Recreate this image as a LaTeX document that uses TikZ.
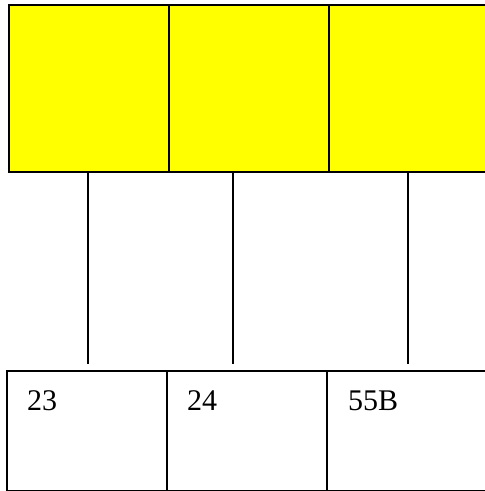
\documentclass[tikz,border=0pt]{standalone}
\usepackage{fontspec}
\setmainfont{Liberation Serif}
\usetikzlibrary{calc}
\definecolor{boxyellow}{RGB}{255,255,0}
\begin{document}
\begin{tikzpicture}[x=1pt,y=-1pt,
  ybox/.style={draw=black,line width=1.5pt,fill=boxyellow,rectangle,inner sep=0pt,anchor=north west,minimum height=167pt},
  wbox/.style={draw=black,line width=1.5pt,fill=white,rectangle,inner sep=0pt,anchor=north west,minimum height=120pt,minimum width=160pt},
  lbl/.style={anchor=base west,inner sep=0pt,font=\fontsize{30}{36}\selectfont},
  conn/.style={draw=black,line width=1.5pt}]
\useasboundingbox (0,0) rectangle (485,491);
\clip (0,0) rectangle (485,491);
% top yellow boxes
\node[ybox,minimum width=160pt] (t1) at (8,4) {};
\node[ybox,minimum width=160pt] (t2) at (168,4) {};
\node[ybox,minimum width=165pt] (t3) at (328,4) {};
% bottom boxes
\node[wbox] (b1) at (6,370) {};
\node[wbox] (b2) at (166,370) {};
\node[wbox,minimum width=165pt] (b3) at (326,370) {};
% labels
\node[lbl] (l1) at ($(b1.north west)+(21,40)$) {23};
\node[lbl] (l2) at ($(b2.north west)+(21,40)$) {24};
\node[lbl] (l3) at ($(b3.north west)+(22,40)$) {55B};
% connectors
\coordinate (e1) at (88,364);
\coordinate (e2) at (233,364);
\coordinate (e3) at (408,364);
\draw[conn] (t1.south -| e1) -- (e1);
\draw[conn] (t2.south -| e2) -- (e2);
\draw[conn] (t3.south -| e3) -- (e3);
\end{tikzpicture}
\end{document}
